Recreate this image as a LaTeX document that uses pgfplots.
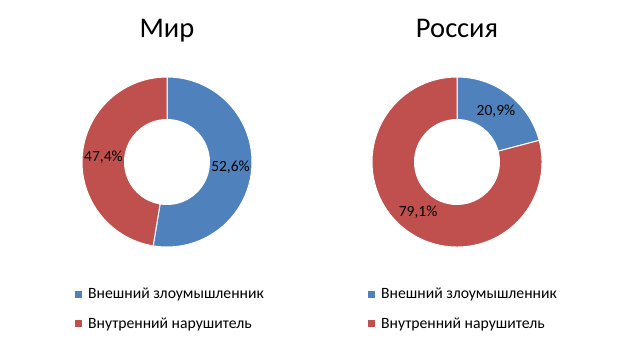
\documentclass[border=0pt]{standalone}
\usepackage{fontspec}
\setmainfont{Carlito}
\usepackage{pgfplots}
\usepackage{pgfplotstable}
\pgfplotsset{compat=1.18}
\definecolor{cblue}{HTML}{4F81BD}
\definecolor{cred}{HTML}{C0504D}

% shares (%), external attacker / internal violator
\pgfplotstableread{
name ext int cx cy
Mir 52.6 47.4 167 195
Rus 20.9 79.1 147 195
}\shares

\newcommand{\Rout}{85}
\newcommand{\Rin}{42.5}
\newcommand{\Rlab}{63.75}

\pgfplotsset{
  donutaxis/.style={
    width=310pt, height=357pt, scale only axis,
    xmin=0, xmax=310, ymin=0, ymax=357,
    hide axis, clip=false,
    legend cell align=left,
    legend style={draw=none, fill=none, font=\fontsize{15.7}{18}\selectfont,
      at={(axis cs:#1,71)}, anchor=north west, inner sep=0pt,
      row sep=13.5pt},
    legend image code/.code={\fill[##1, draw=none] (0pt,-3.5pt) rectangle (7pt,3.5pt);
      \path[draw=none, fill=none] (0pt,0pt) -- (11pt,0pt);},
  },
}

% Draws one donut from row #1 of the table
\newcommand{\donut}[1]{%
  \pgfplotstablegetelem{#1}{ext}\of\shares \let\vExt\pgfplotsretval
  \pgfplotstablegetelem{#1}{int}\of\shares \let\vInt\pgfplotsretval
  \pgfplotstablegetelem{#1}{cx}\of\shares \let\vCx\pgfplotsretval
  \pgfplotstablegetelem{#1}{cy}\of\shares \let\vCy\pgfplotsretval
  \pgfmathsetmacro\aA{90}%
  \pgfmathsetmacro\aB{90-3.6*\vExt}%
  \pgfmathsetmacro\aC{\aB-3.6*\vInt}%
  \pgfmathsetmacro\mA{(\aA+\aB)/2}%
  \pgfmathsetmacro\mB{(\aB+\aC)/2}%
  \edef\doit{%
    \noexpand\filldraw[fill=cblue, draw=white, line width=1pt]
      ([shift={(\aA:\Rout pt)}]axis cs:\vCx,\vCy) arc[start angle=\aA, end angle=\aB, radius=\Rout pt]
      -- ([shift={(\aB:\Rin pt)}]axis cs:\vCx,\vCy) arc[start angle=\aB, end angle=\aA, radius=\Rin pt] -- cycle;
    \noexpand\filldraw[fill=cred, draw=white, line width=1pt]
      ([shift={(\aB:\Rout pt)}]axis cs:\vCx,\vCy) arc[start angle=\aB, end angle=\aC, radius=\Rout pt]
      -- ([shift={(\aC:\Rin pt)}]axis cs:\vCx,\vCy) arc[start angle=\aC, end angle=\aB, radius=\Rin pt] -- cycle;
    \noexpand\node[font=\noexpand\fontsize{15.5}{18}\noexpand\selectfont]
      at ([shift={(\mA:\Rlab pt)}]axis cs:\vCx,\vCy)
      {\noexpand\pgfmathprintnumber[use comma,fixed,fixed zerofill,precision=1,assume math mode=true]{\vExt}\noexpand\%};
    \noexpand\node[font=\noexpand\fontsize{15.5}{18}\noexpand\selectfont]
      at ([shift={(\mB:\Rlab pt)}]axis cs:\vCx,\vCy)
      {\noexpand\pgfmathprintnumber[use comma,fixed,fixed zerofill,precision=1,assume math mode=true]{\vInt}\noexpand\%};
  }%
  \doit
}

\begin{document}
\begin{tikzpicture}
\useasboundingbox (0,0) rectangle (620pt,357pt);
\begin{axis}[donutaxis=75, at={(0pt,0pt)}, anchor=south west]
  \addlegendimage{fill=cblue}
  \addlegendentry{Внешний злоумышленник}
  \addlegendimage{fill=cred}
  \addlegendentry{Внутренний нарушитель}
  \donut{0}
  \node[anchor=base, font=\fontsize{28.5}{34}\selectfont] at (axis cs:167,319) {Мир};
\end{axis}
\begin{axis}[donutaxis=58, at={(310pt,0pt)}, anchor=south west]
  \addlegendimage{fill=cblue}
  \addlegendentry{Внешний злоумышленник}
  \addlegendimage{fill=cred}
  \addlegendentry{Внутренний нарушитель}
  \donut{1}
  \node[anchor=base, font=\fontsize{28.5}{34}\selectfont] at (axis cs:147,319) {Россия};
\end{axis}
\end{tikzpicture}
\end{document}
